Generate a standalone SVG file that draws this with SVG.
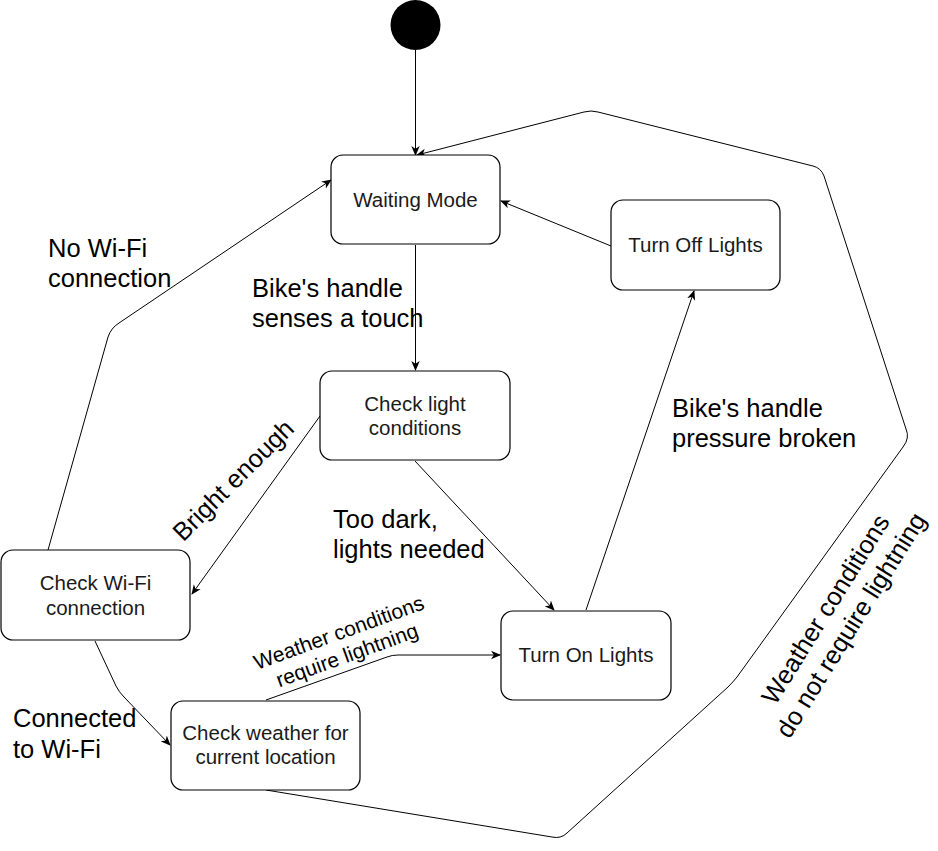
<svg xmlns="http://www.w3.org/2000/svg" width="938" height="851" viewBox="0 0 938 851">
<style>
.node{fill:#fff;stroke:#000;stroke-width:1.2}
.nt{font-family:"Liberation Sans",Arial,sans-serif;font-size:20.5px;fill:#1a1a1a;text-anchor:middle}
.lb{font-family:"Liberation Sans",Arial,sans-serif;font-size:25.5px;fill:#000}
.lbc{font-family:"Liberation Sans",Arial,sans-serif;fill:#000;text-anchor:middle}
.edge{fill:none;stroke:#000;stroke-width:1}
</style>
<defs>
<marker id="arr" viewBox="0 0 10 10" refX="9" refY="5" markerWidth="10" markerHeight="10" markerUnits="userSpaceOnUse" orient="auto">
<path d="M0,0.8 L10,5 L0,9.2 L2.8,5 Z" fill="#000"/>
</marker>
</defs>
<rect width="938" height="851" fill="#fff"/>
<g id="connectors">
<path class="edge" d="M415.5,50 L415.5,155" marker-end="url(#arr)"/>
<path class="edge" d="M415.5,245 L415.5,370" marker-end="url(#arr)"/>
<path class="edge" d="M320,416 L192,594" marker-end="url(#arr)"/>
<path class="edge" d="M415,461 L554,610" marker-end="url(#arr)"/>
<path class="edge" d="M48,550 L108,337 Q111,328 119,323 L331,180" marker-end="url(#arr)"/>
<path class="edge" d="M95,641 L116,686 Q119,692 124,697 L170,745" marker-end="url(#arr)"/>
<path class="edge" d="M266,700 L387,657 Q392,655 398,655 L500,655" marker-end="url(#arr)"/>
<path class="edge" d="M586,610 L694,291" marker-end="url(#arr)"/>
<path class="edge" d="M611,246 L501,201" marker-end="url(#arr)"/>
<path class="edge" d="M266,790 L552,837 Q561,839 567,833 L728,687 Q733,682 737,677 L903,447 Q910,438 906,429 L824,176 Q821,168 813,166 L598,112 Q591,110 584,112 L417,155" marker-end="url(#arr)"/>
</g>
<g id="start"><circle cx="415.5" cy="25" r="25" fill="#000"/></g>
<g id="waiting"><rect class="node" x="331" y="155" width="169" height="89" rx="12"/><text class="nt" x="415.5" y="207">Waiting Mode</text></g>
<g id="turnoff"><rect class="node" x="611" y="200" width="169" height="90" rx="12"/><text class="nt" x="695.5" y="252">Turn Off Lights</text></g>
<g id="checklight"><rect class="node" x="320" y="371" width="190" height="89" rx="12"/><text class="nt" x="415" y="411">Check light</text><text class="nt" x="415" y="435">conditions</text></g>
<g id="checkwifi"><rect class="node" x="1" y="550" width="189" height="90" rx="12"/><text class="nt" x="95.5" y="590">Check Wi-Fi</text><text class="nt" x="95.5" y="615">connection</text></g>
<g id="checkweather"><rect class="node" x="171" y="701" width="189" height="89" rx="12"/><text class="nt" x="265.5" y="740">Check weather for</text><text class="nt" x="265.5" y="764">current location</text></g>
<g id="turnon"><rect class="node" x="501" y="611" width="170" height="89" rx="12"/><text class="nt" x="586" y="662">Turn On Lights</text></g>
<g id="labels">
<text class="lb" x="48" y="257">No Wi-Fi</text><text class="lb" x="48" y="287">connection</text>
<text class="lb" x="252" y="297">Bike's handle</text><text class="lb" x="252" y="327">senses a touch</text>
<text class="lb" x="333" y="528">Too dark,</text><text class="lb" x="333" y="558">lights needed</text>
<text class="lb" x="672" y="417">Bike's handle</text><text class="lb" x="672" y="447">pressure broken</text>
<text class="lb" x="13" y="727">Connected</text><text class="lb" x="13" y="758">to Wi-Fi</text>
<g transform="translate(233,480) rotate(-45)"><text class="lbc" font-size="25.5" x="0" y="9">Bright enough</text></g>
<g transform="translate(343,644) rotate(-20)"><text class="lbc" font-size="21" x="0" y="-5">Weather conditions</text><text class="lbc" font-size="21" x="0" y="19">require lightning</text></g>
<g transform="translate(838,617) rotate(-58)"><text class="lbc" font-size="25.5" x="0" y="-6">Weather conditions</text><text class="lbc" font-size="25.5" x="0" y="24">do not require lightning</text></g>
</g>
</svg>
